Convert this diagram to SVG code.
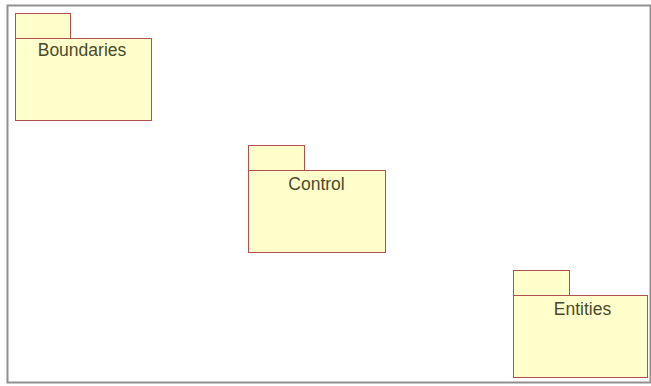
<svg xmlns="http://www.w3.org/2000/svg" width="651" height="386" viewBox="0 0 651 386">
<style>
.pkg{fill:#ffffcc;stroke:#b05050;stroke-width:1}
.lbl{font-family:"Liberation Sans",Arial,sans-serif;font-size:17.5px;fill:#4a4a2a;text-anchor:middle}
</style>
<rect x="0" y="0" width="651" height="386" fill="#ffffff"/>
<rect x="7.5" y="5.5" width="643" height="377" fill="none" stroke="#909090" stroke-width="2"/>
<g id="boundaries">
<rect class="pkg" x="15.5" y="13.5" width="55" height="25"/>
<rect class="pkg" x="15.5" y="38.5" width="136" height="82"/>
<text class="lbl" x="82" y="56">Boundaries</text>
</g>
<g id="control">
<rect class="pkg" x="248.5" y="145.5" width="56" height="25"/>
<rect class="pkg" x="248.5" y="170.5" width="137" height="82"/>
<text class="lbl" x="316.5" y="190">Control</text>
</g>
<g id="entities">
<rect class="pkg" x="513.5" y="270.5" width="56" height="25"/>
<rect class="pkg" x="513.5" y="295.5" width="134" height="82"/>
<text class="lbl" x="582.5" y="315">Entities</text>
</g>
<g id="connectors"></g>
</svg>
